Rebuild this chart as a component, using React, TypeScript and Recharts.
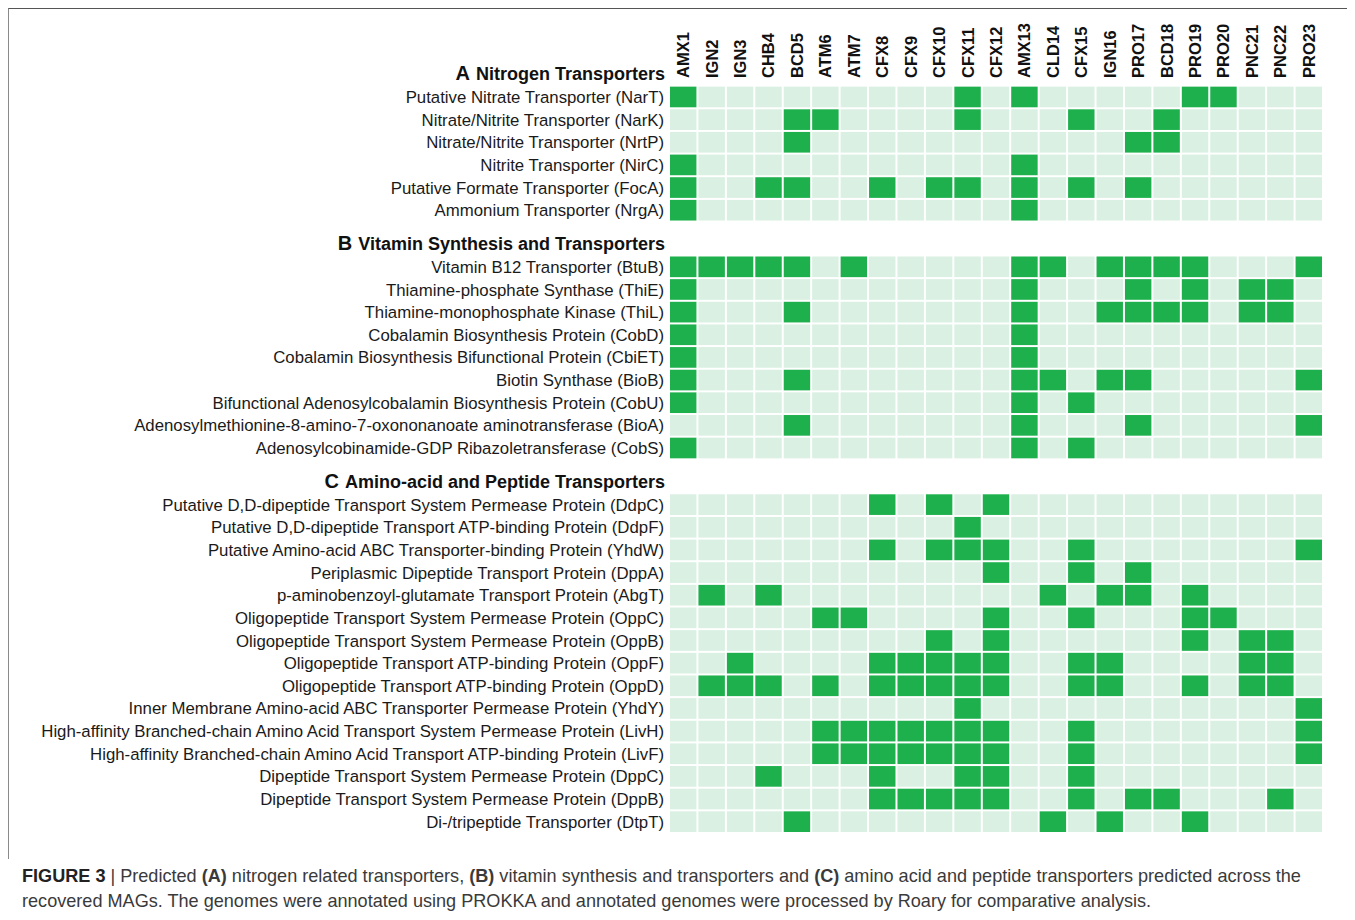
import React from 'react';
import { ScatterChart, Scatter, XAxis, YAxis } from 'recharts';

const genomes = ['AMX1', 'IGN2', 'IGN3', 'CHB4', 'BCD5', 'ATM6', 'ATM7', 'CFX8', 'CFX9', 'CFX10', 'CFX11', 'CFX12', 'AMX13', 'CLD14', 'CFX15', 'IGN16', 'PRO17', 'BCD18', 'PRO19', 'PRO20', 'PNC21', 'PNC22', 'PRO23'];

const sectionLetters = ['A', 'B', 'C'];
const sectionTitles = ['Nitrogen Transporters', 'Vitamin Synthesis and Transporters', 'Amino-acid and Peptide Transporters'];

const nitrogenProteins = [
    'Putative Nitrate Transporter (NarT)',
    'Nitrate/Nitrite Transporter (NarK)',
    'Nitrate/Nitrite Transporter (NrtP)',
    'Nitrite Transporter (NirC)',
    'Putative Formate Transporter (FocA)',
    'Ammonium Transporter (NrgA)',
];
const nitrogenHits = [
    ['AMX1', 'CFX11', 'AMX13', 'PRO19', 'PRO20'],
    ['BCD5', 'ATM6', 'CFX11', 'CFX15', 'BCD18'],
    ['BCD5', 'PRO17', 'BCD18'],
    ['AMX1', 'AMX13'],
    ['AMX1', 'CHB4', 'BCD5', 'CFX8', 'CFX10', 'CFX11', 'AMX13', 'CFX15', 'PRO17'],
    ['AMX1', 'AMX13'],
];

const vitaminProteins = [
    'Vitamin B12 Transporter (BtuB)',
    'Thiamine-phosphate Synthase (ThiE)',
    'Thiamine-monophosphate Kinase (ThiL)',
    'Cobalamin Biosynthesis Protein (CobD)',
    'Cobalamin Biosynthesis Bifunctional Protein (CbiET)',
    'Biotin Synthase (BioB)',
    'Bifunctional Adenosylcobalamin Biosynthesis Protein (CobU)',
    'Adenosylmethionine-8-amino-7-oxononanoate aminotransferase (BioA)',
    'Adenosylcobinamide-GDP Ribazoletransferase (CobS)',
];
const vitaminHits = [
    ['AMX1', 'IGN2', 'IGN3', 'CHB4', 'BCD5', 'ATM7', 'AMX13', 'CLD14', 'IGN16', 'PRO17', 'BCD18', 'PRO19', 'PRO23'],
    ['AMX1', 'AMX13', 'PRO17', 'PRO19', 'PNC21', 'PNC22'],
    ['AMX1', 'BCD5', 'AMX13', 'IGN16', 'PRO17', 'BCD18', 'PRO19', 'PNC21', 'PNC22'],
    ['AMX1', 'AMX13'],
    ['AMX1', 'AMX13'],
    ['AMX1', 'BCD5', 'AMX13', 'CLD14', 'IGN16', 'PRO17', 'PRO23'],
    ['AMX1', 'AMX13', 'CFX15'],
    ['BCD5', 'AMX13', 'PRO17', 'PRO23'],
    ['AMX1', 'AMX13', 'CFX15'],
];

const aminoProteins = [
    'Putative D,D-dipeptide Transport System Permease Protein (DdpC)',
    'Putative D,D-dipeptide Transport ATP-binding Protein (DdpF)',
    'Putative Amino-acid ABC Transporter-binding Protein (YhdW)',
    'Periplasmic Dipeptide Transport Protein (DppA)',
    'p-aminobenzoyl-glutamate Transport Protein (AbgT)',
    'Oligopeptide Transport System Permease Protein (OppC)',
    'Oligopeptide Transport System Permease Protein (OppB)',
    'Oligopeptide Transport ATP-binding Protein (OppF)',
    'Oligopeptide Transport ATP-binding Protein (OppD)',
    'Inner Membrane Amino-acid ABC Transporter Permease Protein (YhdY)',
    'High-affinity Branched-chain Amino Acid Transport System Permease Protein (LivH)',
    'High-affinity Branched-chain Amino Acid Transport ATP-binding Protein (LivF)',
    'Dipeptide Transport System Permease Protein (DppC)',
    'Dipeptide Transport System Permease Protein (DppB)',
    'Di-/tripeptide Transporter (DtpT)',
];
const aminoHits = [
    ['CFX8', 'CFX10', 'CFX12'],
    ['CFX11'],
    ['CFX8', 'CFX10', 'CFX11', 'CFX12', 'CFX15', 'PRO23'],
    ['CFX12', 'CFX15', 'PRO17'],
    ['IGN2', 'CHB4', 'CLD14', 'IGN16', 'PRO17', 'PRO19'],
    ['ATM6', 'ATM7', 'CFX12', 'CFX15', 'PRO19', 'PRO20'],
    ['CFX10', 'CFX12', 'PRO19', 'PNC21', 'PNC22'],
    ['IGN3', 'CFX8', 'CFX9', 'CFX10', 'CFX11', 'CFX12', 'CFX15', 'IGN16', 'PNC21', 'PNC22'],
    ['IGN2', 'IGN3', 'CHB4', 'ATM6', 'CFX8', 'CFX9', 'CFX10', 'CFX11', 'CFX12', 'CFX15', 'IGN16', 'PRO19', 'PNC21', 'PNC22'],
    ['CFX11', 'PRO23'],
    ['ATM6', 'ATM7', 'CFX8', 'CFX9', 'CFX10', 'CFX11', 'CFX12', 'CFX15', 'PRO23'],
    ['ATM6', 'ATM7', 'CFX8', 'CFX9', 'CFX10', 'CFX11', 'CFX12', 'CFX15', 'PRO23'],
    ['CHB4', 'CFX8', 'CFX11', 'CFX12', 'CFX15'],
    ['CFX8', 'CFX9', 'CFX10', 'CFX11', 'CFX12', 'CFX15', 'PRO17', 'BCD18', 'PNC22'],
    ['BCD5', 'CLD14', 'IGN16', 'PRO19'],
];

const sectionProteins = [nitrogenProteins, vitaminProteins, aminoProteins];
const sectionHits = [nitrogenHits, vitaminHits, aminoHits];

const FONT = '"Liberation Sans", Arial, Helvetica, sans-serif';
const ON = '#1db04c';
const OFF = '#d9f0e2';

const CHART_W = 1340;
const CHART_H = 850;
const MARGIN = { top: 6, right: 24, bottom: 24, left: 12 };
const Y_AXIS_W = 650;
const X_AXIS_H = 50;

// row layout: header then rows, 1.5 row gap between sections
type RowInfo = { pos: number; label: string; header?: string };
const rowInfo: RowInfo[] = [];
const cells: { x: number; y: number }[] = [];
const hitCells: { x: number; y: number }[] = [];
let cursor = 0;
sectionProteins.forEach((names, s) => {
    if (s > 0) cursor += 1.5;
    rowInfo.push({ pos: cursor, label: sectionTitles[s], header: sectionLetters[s] });
    names.forEach((name, r) => {
        cursor += 1;
        rowInfo.push({ pos: cursor, label: name });
        genomes.forEach((g, gi) => {
            if (sectionHits[s][r].includes(g)) hitCells.push({ x: gi, y: cursor });
            else cells.push({ x: gi, y: cursor });
        });
    });
});
const yMin = -0.5;
const yMax = cursor + 0.5;

const plotW = CHART_W - MARGIN.left - MARGIN.right - Y_AXIS_W;
const plotH = CHART_H - MARGIN.top - MARGIN.bottom - X_AXIS_H;
const cellW = plotW / genomes.length;
const cellH = plotH / (yMax - yMin);

const cellShape = (fill: string) => (props: any) => {
    const { cx, cy } = props;
    return <rect x={cx - cellW / 2 + 1} y={cy - cellH / 2 + 1} width={cellW - 2} height={cellH - 2} fill={fill} />;
};

const GenomeTick = (props: any) => {
    const { x, y, payload } = props;
    return (
        <text
            transform={`translate(${x}, ${y + 17}) rotate(-90)`}
            dy="0.36em"
            textAnchor="start"
            fontFamily={FONT}
            fontWeight="bold"
            fontSize={16.5}
            fill="#111"
        >
            {genomes[payload.value]}
        </text>
    );
};

const RowTick = (props: any) => {
    const { x, y, payload } = props;
    const info = rowInfo.find((r) => Math.abs(r.pos - payload.value) < 0.01);
    if (!info) return null;
    if (info.header) {
        return (
            <text x={x + 1} y={y} dy="0.36em" textAnchor="end" fontFamily={FONT} fontWeight="bold" fill="#111">
                <tspan fontSize={20}>{info.header}</tspan>
                <tspan fontSize={18} dx={6}>{info.label}</tspan>
            </text>
        );
    }
    return (
        <text x={x} y={y} dy="0.36em" textAnchor="end" fontFamily={FONT} fontSize={16.8} fill="#1a1a1a">
            {info.label}
        </text>
    );
};

export default function App() {
    return (
        <div style={{ position: 'relative', width: 1347, height: 904, overflow: 'hidden', margin: '-1px 0 0 -1px' }}>
            <div
                style={{
                    position: 'absolute',
                    left: 0,
                    top: 0,
                    width: 1360,
                    height: 852,
                    borderTop: '2px solid #555',
                    borderLeft: '2px solid #8a8a8a',
                    boxSizing: 'border-box',
                }}
            />
            <div style={{ position: 'absolute', left: 0, top: 0 }}>
                <ScatterChart width={CHART_W} height={CHART_H} margin={MARGIN}>
                    <XAxis
                        type="number"
                        dataKey="x"
                        orientation="top"
                        domain={[-0.5, genomes.length - 0.5]}
                        ticks={genomes.map((_, i) => i)}
                        interval={0}
                        height={X_AXIS_H}
                        axisLine={false}
                        tickLine={false}
                        tickSize={0}
                        tick={<GenomeTick />}
                    />
                    <YAxis
                        type="number"
                        dataKey="y"
                        reversed
                        domain={[yMin, yMax]}
                        ticks={rowInfo.map((r) => r.pos)}
                        interval={0}
                        width={Y_AXIS_W}
                        axisLine={false}
                        tickLine={false}
                        tickSize={0}
                        tickMargin={5}
                        tick={<RowTick />}
                    />
                    <Scatter data={cells} shape={cellShape(OFF)} isAnimationActive={false} />
                    <Scatter data={hitCells} shape={cellShape(ON)} isAnimationActive={false} />
                </ScatterChart>
            </div>
            <div
                style={{
                    position: 'absolute',
                    left: 15,
                    top: 857,
                    fontFamily: FONT,
                    fontSize: 18.1,
                    lineHeight: '25px',
                    color: '#3a3a3a',
                    whiteSpace: 'nowrap',
                }}
            >
                <b style={{ color: '#222' }}>FIGURE 3</b> | Predicted <b>(A)</b> nitrogen related transporters, <b>(B)</b> vitamin synthesis and
                transporters and <b>(C)</b> amino acid and peptide transporters predicted across the
                <br />
                recovered MAGs. The genomes were annotated using PROKKA and annotated genomes were processed by Roary for comparative analysis.
            </div>
        </div>
    );
}
